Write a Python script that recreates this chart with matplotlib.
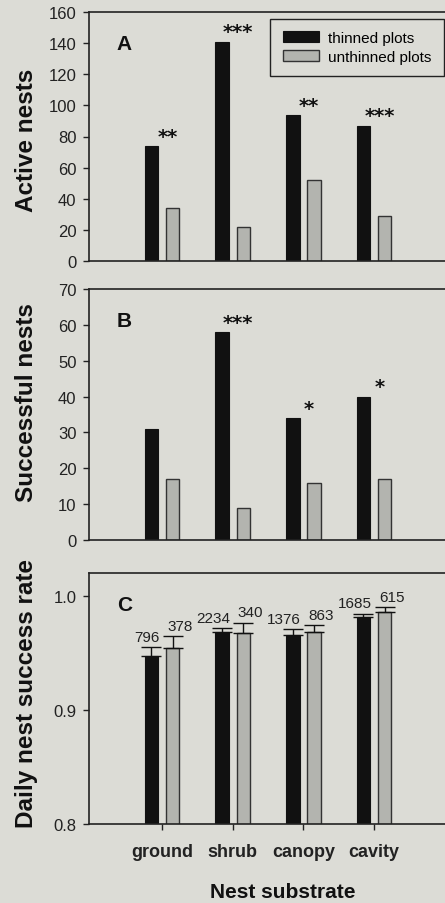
import matplotlib
matplotlib.use("Agg")
import matplotlib.pyplot as plt
import numpy as np

# ---------------- data ----------------
categories = ["ground", "shrub", "canopy", "cavity"]
series_names = ["thinned plots", "unthinned plots"]

active_thinned = [74, 141, 94, 87]
active_unthinned = [34, 22, 52, 29]
active_stars = ["**", "***", "**", "***"]

success_thinned = [31, 58, 34, 40]
success_unthinned = [17, 9, 16, 17]
success_stars = ["", "***", "*", "*"]

dsr_thinned = [0.947, 0.968, 0.966, 0.981]
dsr_thinned_se = [0.008, 0.0035, 0.0047, 0.0035]
dsr_unthinned = [0.9545, 0.967, 0.9685, 0.986]
dsr_unthinned_se = [0.010, 0.0096, 0.0058, 0.004]
n_thinned = [796, 2234, 1376, 1685]
n_unthinned = [378, 340, 863, 615]

ylabels = ["Active nests", "Successful nests", "Daily nest success rate"]
panel_letters = ["A", "B", "C"]
xlabel = "Nest substrate"

# ---------------- style ----------------
bg = "#dcdcd6"
dark = "#111111"
gray = "#b3b4af"
font = "Liberation Sans"
plt.rcParams["font.family"] = [font, "DejaVu Sans"]

fig = plt.figure(figsize=(4.45, 9.04), dpi=100, facecolor=bg)
W, H = 445.0, 904.0

def axes_px(left, top, right, bottom):
    return fig.add_axes([left / W, 1 - bottom / H, (right - left) / W, (bottom - top) / H])

axA = axes_px(89, 13, 445, 262)
axB = axes_px(89, 290, 445, 541)
axC = axes_px(89, 574, 445, 825)

x = np.arange(1, len(categories) + 1)
off = 0.15
bw = 0.192

def style_axes(ax):
    ax.set_facecolor(bg)
    ax.spines["right"].set_visible(False)
    for s in ["left", "top", "bottom"]:
        ax.spines[s].set_linewidth(1.2)
        ax.spines[s].set_color("#222222")
    ax.set_xlim(-0.033, 5.004)
    ax.tick_params(axis="y", direction="out", length=4, width=1, pad=5,
                   labelsize=12, colors="#222222")
    for lab in ax.get_yticklabels():
        lab.set_fontfamily(font)

def draw_bars(ax, t, u):
    b1 = ax.bar(x - off, t, width=bw, color=dark, edgecolor=dark, linewidth=0.8,
                label=series_names[0], zorder=2)
    b2 = ax.bar(x + off, u, width=bw, color=gray, edgecolor="#333333", linewidth=1.0,
                label=series_names[1], zorder=2)
    return b1, b2

def draw_stars(ax, t, stars):
    for xi, ti, s in zip(x, t, stars):
        if s:
            ax.annotate(s, xy=(xi + 0.08, ti), xytext=(0, 3), textcoords="offset points",
                        ha="center", va="baseline", fontsize=14, fontweight="bold",
                        family="DejaVu Sans", color=dark)

# Panel A
draw_bars(axA, active_thinned, active_unthinned)
style_axes(axA)
axA.set_ylim(0, 160)
axA.set_yticks(np.arange(0, 161, 20))
axA.set_xticks([])
draw_stars(axA, active_thinned, active_stars)
leg = axA.legend(loc="upper right", bbox_to_anchor=(444 / W, 1 - 20 / H),
                 bbox_transform=fig.transFigure, fontsize=11, frameon=True,
                 fancybox=False, edgecolor="#222222", facecolor=bg, framealpha=1,
                 handlelength=2.4, handleheight=0.75, handletextpad=0.6,
                 labelspacing=0.3, borderpad=0.8, borderaxespad=0)
leg.get_frame().set_linewidth(1.0)

# Panel B
draw_bars(axB, success_thinned, success_unthinned)
style_axes(axB)
axB.set_ylim(0, 70)
axB.set_yticks(np.arange(0, 71, 10))
axB.set_xticks([])
draw_stars(axB, success_thinned, success_stars)

# Panel C
draw_bars(axC, dsr_thinned, dsr_unthinned)
style_axes(axC)
axC.errorbar(x - off, dsr_thinned, yerr=[np.zeros(4), dsr_thinned_se], fmt="none",
             ecolor=dark, elinewidth=1, capsize=7, capthick=1, zorder=3)
axC.errorbar(x + off, dsr_unthinned, yerr=[np.zeros(4), dsr_unthinned_se], fmt="none",
             ecolor=dark, elinewidth=1, capsize=7, capthick=1, zorder=3)
axC.set_ylim(0.8, 1.02)
axC.set_yticks([0.8, 0.9, 1.0])
axC.set_yticklabels(["0.8", "0.9", "1.0"])
axC.set_xticks(x)
axC.set_xticklabels(categories, fontsize=13, fontweight="bold")
axC.tick_params(axis="x", direction="out", length=4, width=1, pad=10, colors="#222222")
for xi, v, e, n in zip(x, dsr_thinned, dsr_thinned_se, n_thinned):
    axC.annotate(str(n), xy=(xi - off + bw / 2 + 0.02, v + e), xytext=(0, 4.5),
                 textcoords="offset points", ha="right", va="baseline",
                 fontsize=11, color="#222222")
for xi, v, e, n in zip(x, dsr_unthinned, dsr_unthinned_se, n_unthinned):
    axC.annotate(str(n), xy=(xi + off - bw / 2 + 0.02, v + e), xytext=(0, 4.5),
                 textcoords="offset points", ha="left", va="baseline",
                 fontsize=11, color="#222222")

# panel letters & y labels
for ax, letter, ylab, ymid in zip([axA, axB, axC], panel_letters, ylabels,
                                  [140, 402.5, 693.5]):
    ax.text(0.078, 0.875, letter, transform=ax.transAxes, fontsize=15,
            fontweight="bold", ha="left", va="center", color=dark)
    fig.text(38 / W, 1 - ymid / H, ylab, rotation=90, ha="right", va="center",
             fontsize=17.5, fontweight="bold", color=dark)

fig.text(283 / W, 6 / H, xlabel, ha="center", va="baseline", fontsize=15,
         fontweight="bold", color=dark)

fig.savefig("out.png", dpi=100, facecolor=bg)
